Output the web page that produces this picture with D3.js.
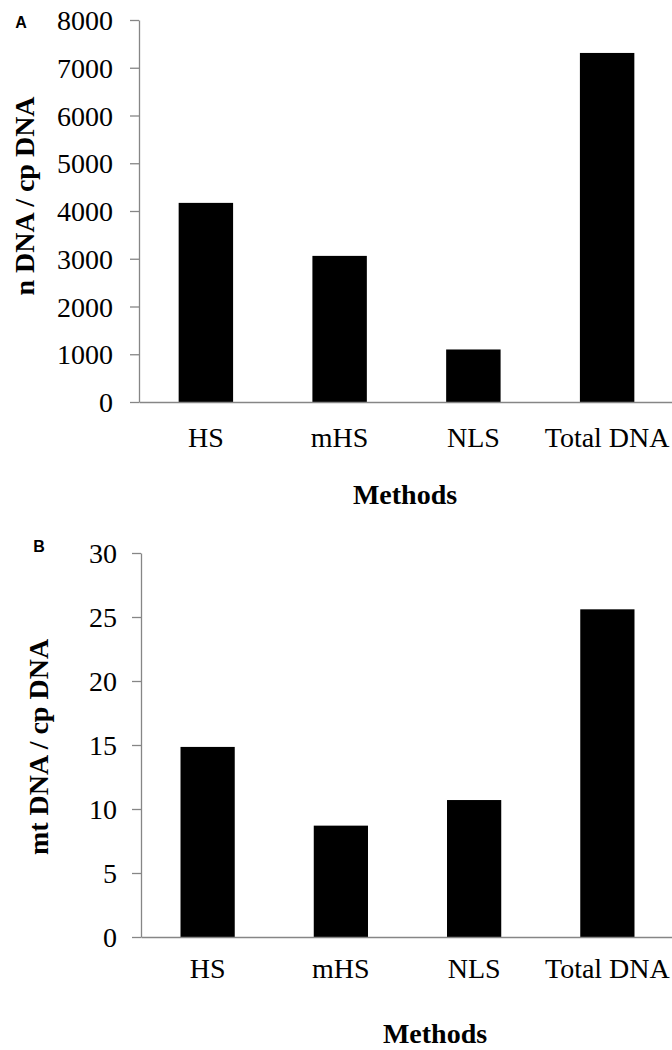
<!DOCTYPE html>
<html>
<head>
<meta charset="utf-8">
<script src="https://cdn.jsdelivr.net/npm/d3@7"></script>
<style>
  body { margin: 0; background: #fff; }
  svg text { font-family: "Liberation Serif", "Times New Roman", serif; fill: #000; }
  .axis path, .axis line { stroke: #868686; stroke-width: 1.3; }
  .panel-tag { font-family: "Liberation Sans", Arial, sans-serif !important; font-weight: bold; }
</style>
</head>
<body>
<div id="chart"></div>
<script>
// data
var methods = ["HS", "mHS", "NLS", "Total DNA"];
var nuclearRatio = [4170, 3060, 1100, 7310];   // n DNA / cp DNA
var mitoRatio = [14.85, 8.7, 10.7, 25.6];      // mt DNA / cp DNA
var nuclearTicks = [0, 1000, 2000, 3000, 4000, 5000, 6000, 7000, 8000];
var mitoTicks = [0, 5, 10, 15, 20, 25, 30];

var svg = d3.select("#chart").append("svg")
    .attr("width", 672)
    .attr("height", 1050);

// panel A
drawPanel({
    tag: "A", tagX: 21, tagY: 28,
    values: nuclearRatio, ticks: nuclearTicks, yMax: 8000,
    left: 139, right: 674, top: 20, bottom: 402,
    yLabel: "n DNA / cp DNA", yLabelX: 34, yLabelY: 196,
    tickPad: 17, xLabelY: 45,
    xTitleX: 405, xTitleY: 504
});

// panel B
drawPanel({
    tag: "B", tagX: 39, tagY: 552,
    values: mitoRatio, ticks: mitoTicks, yMax: 30,
    left: 141, right: 674, top: 553, bottom: 937,
    yLabel: "mt DNA / cp DNA", yLabelX: 48, yLabelY: 747,
    tickPad: 15, xLabelY: 41,
    xTitleX: 435, xTitleY: 1043
});

function drawPanel(p) {
    var g = svg.append("g");

    var x = d3.scaleBand()
        .domain(methods)
        .range([p.left, p.right])
        .paddingInner(0.593)
        .paddingOuter(0.2965);

    var y = d3.scaleLinear()
        .domain([0, p.yMax])
        .range([p.bottom, p.top]);

    // bars
    g.selectAll("rect")
        .data(methods)
        .enter()
        .append("rect")
        .attr("x", function(d) { return x(d); })
        .attr("y", function(d, i) { return y(p.values[i]); })
        .attr("width", x.bandwidth())
        .attr("height", function(d, i) { return p.bottom - y(p.values[i]); })
        .style("fill", "#000");

    // x axis
    var xAxis = g.append("g")
        .attr("class", "axis")
        .attr("transform", "translate(0," + p.bottom + ")")
        .call(d3.axisBottom(x).tickSize(0).tickSizeOuter(0));
    xAxis.selectAll("text")
        .attr("y", p.xLabelY)
        .attr("dy", null)
        .style("font-size", "28px");

    // y axis
    var yAxis = g.append("g")
        .attr("class", "axis")
        .attr("transform", "translate(" + p.left + ",0)")
        .call(d3.axisLeft(y)
            .tickValues(p.ticks)
            .tickFormat(d3.format("d"))
            .tickSize(9)
            .tickSizeOuter(0)
            .tickPadding(p.tickPad));
    yAxis.selectAll("text")
        .attr("dy", "0.34em")
        .style("font-size", "28px");

    // y title
    g.append("text")
        .attr("transform", "translate(" + p.yLabelX + "," + p.yLabelY + ") rotate(-90)")
        .attr("text-anchor", "middle")
        .style("font-size", "28px")
        .style("font-weight", "bold")
        .text(p.yLabel);

    // x title
    g.append("text")
        .attr("x", p.xTitleX)
        .attr("y", p.xTitleY)
        .attr("text-anchor", "middle")
        .style("font-size", "28px")
        .style("font-weight", "bold")
        .text("Methods");

    // panel letter
    g.append("text")
        .attr("class", "panel-tag")
        .attr("x", p.tagX)
        .attr("y", p.tagY)
        .attr("text-anchor", "middle")
        .style("font-size", "16px")
        .text(p.tag);
}
</script>
</body>
</html>
